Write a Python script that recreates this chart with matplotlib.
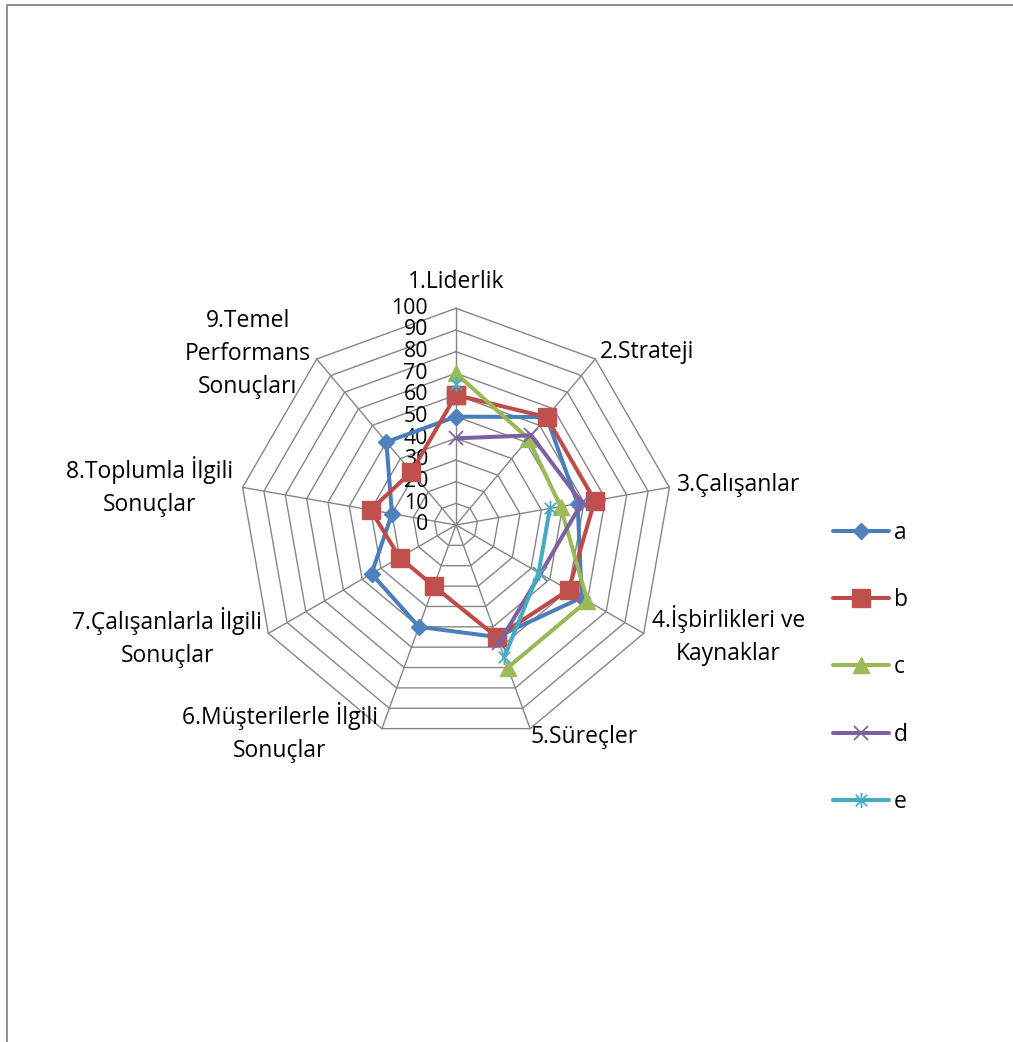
import numpy as np
import matplotlib
matplotlib.use("Agg")
import matplotlib.pyplot as plt
from matplotlib.path import Path
from matplotlib.lines import Line2D

plt.rcParams['font.family'] = ['Open Sans', 'DejaVu Sans']

categories = ["1.Liderlik", "2.Strateji", "3.Çalışanlar",
              "4.İşbirlikleri ve\nKaynaklar", "5.Süreçler",
              "6.Müşterilerle İlgili\nSonuçlar", "7.Çalışanlarla İlgili\nSonuçlar",
              "8.Toplumla İlgili\nSonuçlar", "9.Temel\nPerformans\nSonuçları"]

nan = np.nan
series_a = [50, 65, 57, 67, 55, 50, 45, 30, 50]
series_b = [60, 65, 65, 60, 55, 30, 30, 40, 32]
series_c = [70, 52, 49, 70, 70, nan, nan, nan, nan]
series_d = [40, 54, 59, 45, 58, nan, nan, nan, nan]
series_e = [65, nan, 44, 44, 65, nan, nan, nan, nan]
series_names = ["a", "b", "c", "d", "e"]
radial_ticks = [0, 10, 20, 30, 40, 50, 60, 70, 80, 90, 100]

W, H = 1013, 1042
fig = plt.figure(figsize=(W / 100, H / 100), dpi=100)

cx, cy, R = 456, 525, 216.7
ax = fig.add_axes([(cx - R) / W, (H - cy - R) / H, 2 * R / W, 2 * R / H],
                  projection='polar')
ax.set_theta_offset(np.pi / 2)
ax.set_theta_direction(-1)
ax.set_ylim(0, 100)
ax.set_axis_off()

n = len(categories)
theta = np.arange(n) * 2 * np.pi / n
theta_closed = np.append(theta, theta[0])

grid_color = '#868686'
for r in radial_ticks[1:]:
    ax.plot(theta_closed, [r] * (n + 1), color=grid_color, lw=1.0,
            clip_on=False, zorder=1)
for t in theta:
    ax.plot([t, t], [0, 100], color=grid_color, lw=1.0, clip_on=False, zorder=1)

fs = 16.5
for r in radial_ticks:
    ax.annotate(str(r), xy=(0, r), xytext=(-28, 0), textcoords='offset pixels',
                ha='right', va='center', fontsize=15.3, color='black')

label_offsets = [(0, 26, 'center'), (5, 7, 'left'), (8, 2, 'left'),
                 (8, -2, 'left'), (0, -8, 'left'), (-4, -4, 'right'),
                 (-6, -4, 'right'), (-9, 1, 'right'), (-6, 5, 'right')]
for t, lab, (dx, dy, ha) in zip(theta, categories, label_offsets):
    ax.annotate(lab, xy=(t, 100), xytext=(dx, dy), textcoords='offset pixels',
                ha=ha, va='center', multialignment='center', fontsize=fs,
                linespacing=1.48, annotation_clip=False)

# six-armed asterisk marker
star = Path([(0, -1), (0, 1), (-0.75, -0.75), (0.75, 0.75), (-0.75, 0.75), (0.75, -0.75)],
            [Path.MOVETO, Path.LINETO] * 3)

styles = [
    dict(color='#4A7EBB', marker='D', ms=8, mfc='#4F81BD', mec='#4F81BD', mew=1),
    dict(color='#BE4B48', marker='s', ms=12.5, mfc='#C0504D', mec='#C0504D', mew=1),
    dict(color='#98B954', marker='^', ms=12, mfc='#9BBB59', mec='#9BBB59', mew=1),
    dict(color='#7D60A0', marker='x', ms=10, mfc='#8064A2', mec='#8064A2', mew=1.3),
    dict(color='#46AAC5', marker=star, ms=11, mfc='none', mec='#4BACC6', mew=1.3),
]
closed = [True, True, False, False, False]
all_series = [series_a, series_b, series_c, series_d, series_e]
handles = []
for vals, name, st, cl in zip(all_series, series_names, styles, closed):
    v = np.array(vals, dtype=float)
    th = theta
    if cl:
        v = np.append(v, v[0])
        th = theta_closed
    h, = ax.plot(th, v, lw=2.9, label=name, clip_on=False, zorder=3,
                 solid_capstyle='round', **st)
    handles.append(h)

fig.legend(handles=handles, loc='upper left', bbox_to_anchor=(833 / W, 1 - 521 / H),
           frameon=False, fontsize=fs, handlelength=2.45, handletextpad=0.2,
           labelspacing=1.885, borderpad=0, borderaxespad=0)

# chart-area border
bx, by = 6.7 / W, 1 - 4.7 / H
fig.add_artist(Line2D([bx, bx, 1.0], [0.0, by, by], color='#878787', lw=1.3,
                      transform=fig.transFigure))

fig.savefig("out.png", dpi=100, facecolor='white')
